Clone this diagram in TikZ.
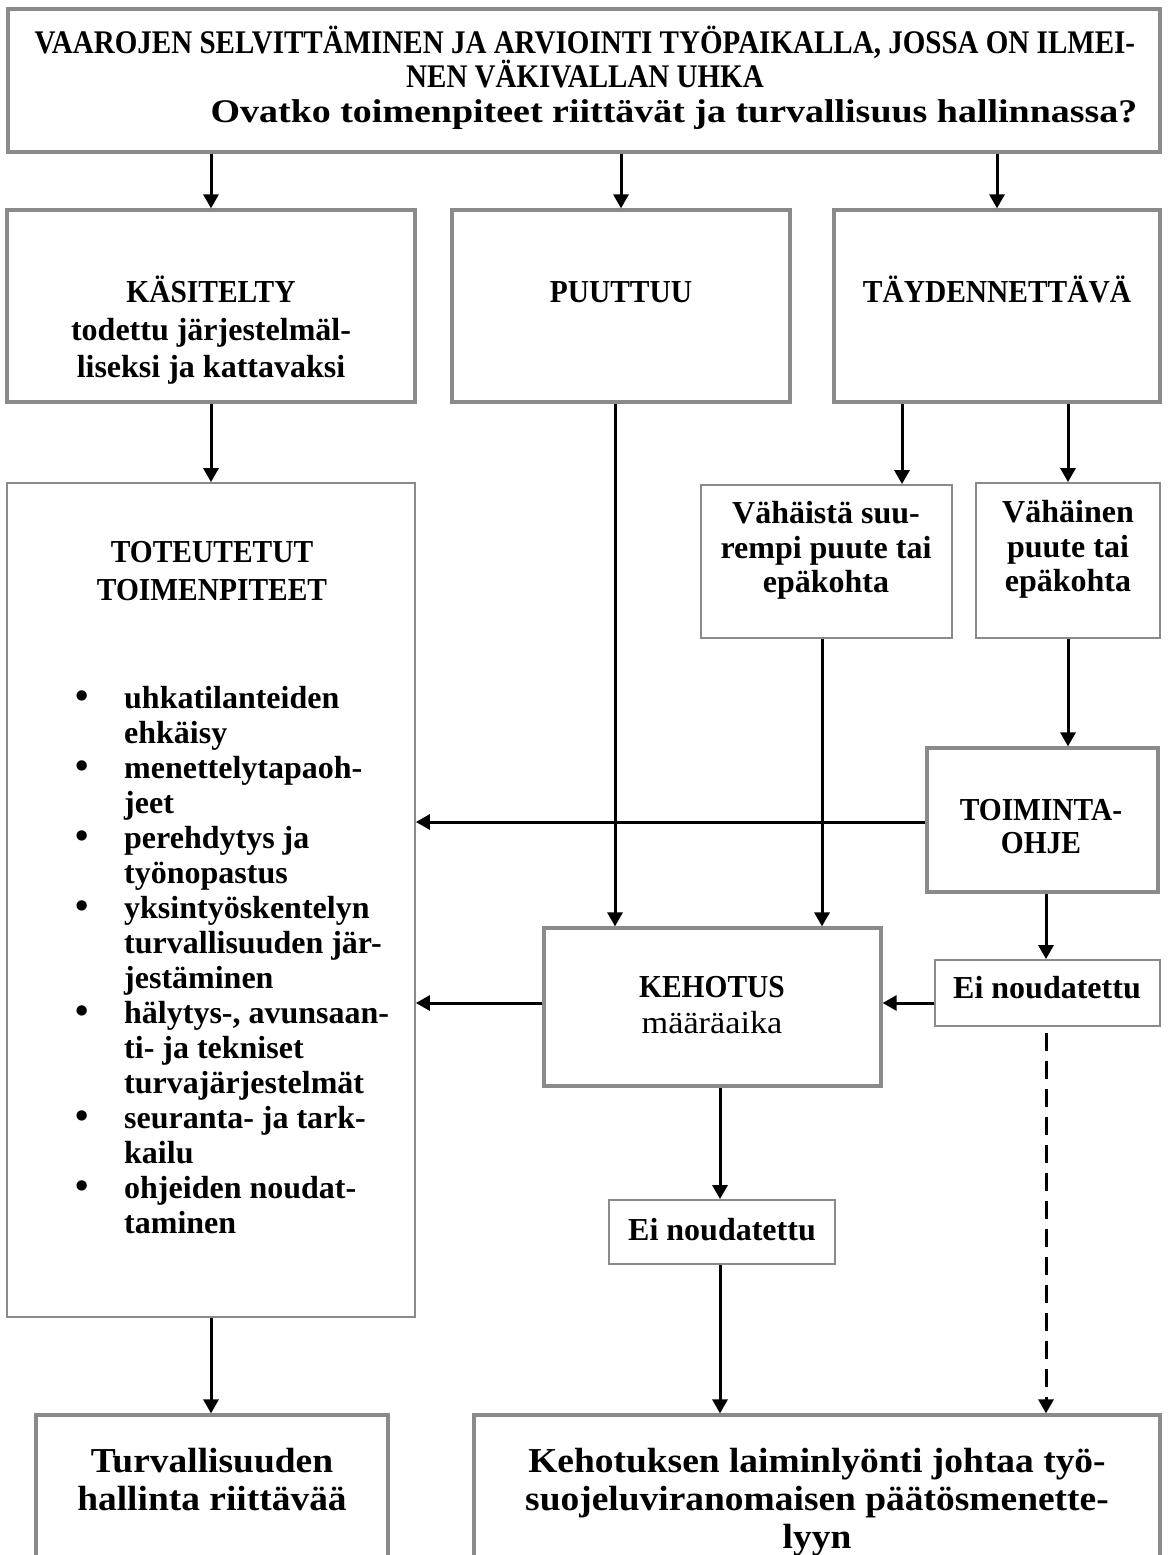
\documentclass[tikz,border=0pt]{standalone}
\usepackage{fontspec}
\setmainfont{Liberation Serif}
\newfontfamily\capsfont{Liberation Serif}[FakeStretch=0.92]
\newfontfamily\titlecaps{Liberation Serif}[FakeStretch=0.88]
\newfontfamily\titlelc{Liberation Serif}[FakeStretch=1.15]
\newfontfamily\widefont{Liberation Serif}[FakeStretch=1.07]
\usetikzlibrary{arrows.meta}
\definecolor{bordergray}{HTML}{8A8A8A}
\begin{document}
\begin{tikzpicture}[x=1pt,y=-1pt,
  thickbox/.style={draw=bordergray, line width=3.2pt, fill=white, inner sep=0pt},
  thinbox/.style={draw=bordergray, line width=1.8pt, fill=white, inner sep=0pt},
  arr/.style={draw=black, line width=3pt, -{Triangle[length=14pt,width=15pt]}},
  dasharr/.style={arr, dash pattern=on 18pt off 10pt, dash phase=22pt},
  ttlcap/.style={inner sep=0pt, anchor=base, font=\titlecaps\fontsize{33}{35}\selectfont\bfseries},
  ttllc/.style={inner sep=0pt, anchor=base, font=\titlelc\fontsize{33}{35}\selectfont\bfseries},
  uc/.style={inner sep=0pt, anchor=base, font=\capsfont\fontsize{32}{35}\selectfont\bfseries},
  lc/.style={inner sep=0pt, anchor=base, font=\fontsize{32}{35}\selectfont\bfseries},
  rg/.style={inner sep=0pt, anchor=base, font=\widefont\fontsize{32}{35}\selectfont},
  bigtxt/.style={inner sep=0pt, anchor=base, font=\widefont\fontsize{35}{38}\selectfont\bfseries}
]
\useasboundingbox (0,0) rectangle (1168,1555);
\clip (0,0) rectangle (1168,1555);

% ---------- boxes ----------
\node[thickbox, minimum width=1152pt, minimum height=143pt] (top) at (584,80.5) {};
\node[thickbox, minimum width=408pt, minimum height=192pt] (kas) at (211,306) {};
\node[thickbox, minimum width=338pt, minimum height=192pt] (puu) at (621,306) {};
\node[thickbox, minimum width=326pt, minimum height=192pt] (tay) at (997,306) {};
\node[thinbox, minimum width=408pt, minimum height=834pt] (tot) at (211,900) {};
\node[thinbox, minimum width=251pt, minimum height=153pt] (vs) at (826.5,561.5) {};
\node[thinbox, minimum width=184pt, minimum height=155pt] (vn) at (1068,560.5) {};
\node[thickbox, minimum width=231pt, minimum height=144pt] (toi) at (1042.5,820) {};
\node[thinbox, minimum width=225pt, minimum height=66pt] (eir) at (1047.5,993) {};
\node[thickbox, minimum width=337pt, minimum height=158pt] (keh) at (712.5,1007) {};
\node[thinbox, minimum width=226pt, minimum height=64pt] (eim) at (722,1232) {};
\node[thickbox, minimum width=352pt, minimum height=200pt] (bl) at (212,1515) {};
\node[thickbox, minimum width=686pt, minimum height=200pt] (br) at (817,1515) {};

% ---------- helper coordinates ----------
\coordinate (xa) at (902,0);
\coordinate (xp) at (615,0);
\coordinate (xv) at (822,0);
\coordinate (xe) at (1046,0);
\coordinate (xm) at (720,0);
\coordinate (yt) at (0,822);
\coordinate (yk) at (0,1003);

% ---------- connectors ----------
\draw[arr] (top.south -| kas.north) -- (kas.north);
\draw[arr] (top.south -| puu.north) -- (puu.north);
\draw[arr] (top.south -| tay.north) -- (tay.north);
\draw[arr] (kas.south) -- (tot.north);
\draw[arr] (tay.south -| xa) -- (vs.north -| xa);
\draw[arr] (tay.south -| vn.north) -- (vn.north);
\draw[arr] (puu.south -| xp) -- (keh.north -| xp);
\draw[arr] (vs.south -| xv) -- (keh.north -| xv);
\draw[arr] (vn.south) -- (toi.north -| vn.south);
\draw[arr] (toi.west |- yt) -- (tot.east |- yt);
\draw[arr] (toi.south -| xe) -- (eir.north -| xe);
\draw[arr] (eir.west |- yk) -- (keh.east |- yk);
\draw[arr] (keh.west |- yk) -- (tot.east |- yk);
\draw[arr] (keh.south -| xm) -- (eim.north -| xm);
\draw[arr] (eim.south -| xm) -- (br.north -| xm);
\draw[dasharr] (eir.south -| xe) -- (br.north -| xe);
\draw[arr] (tot.south) -- (bl.north -| tot.south);

% ---------- texts ----------
\node[ttlcap] (t1) at (585,54) {VAAROJEN SELVITTÄMINEN JA ARVIOINTI TYÖPAIKALLA, JOSSA ON ILMEI-};
\node[ttlcap] (t2) at (585,88) {NEN VÄKIVALLAN UHKA};
\node[ttllc] (t3) at (674,122) {Ovatko toimenpiteet riittävät ja turvallisuus hallinnassa?};

\node[uc] (k1) at (211,302) {KÄSITELTY};
\node[lc] (k2) at (211,340) {todettu järjestelmäl-};
\node[lc] (k3) at (211,377) {liseksi ja kattavaksi};

\node[uc] (p1) at (621,302) {PUUTTUU};
\node[uc] (ty1) at (997,302) {TÄYDENNETTÄVÄ};

\node[lc] (vs1) at (826,523) {Vähäistä suu-};
\node[lc] (vs2) at (826,558) {rempi puute tai};
\node[lc] (vs3) at (826,592) {epäkohta};

\node[lc] (vn1) at (1068,522) {Vähäinen};
\node[lc] (vn2) at (1068,557) {puute tai};
\node[lc] (vn3) at (1068,591) {epäkohta};

\node[uc] (to1) at (1041,820) {TOIMINTA-};
\node[uc] (to2) at (1041,853) {OHJE};

\node[lc] (er1) at (1047,998) {Ei noudatettu};

\node[uc] (ke1) at (712,997) {KEHOTUS};
\node[rg] (ke2) at (712,1033) {määräaika};

\node[lc] (em1) at (722,1240) {Ei noudatettu};

\node[uc] (tt1) at (212,562) {TOTEUTETUT};
\node[uc] (tt2) at (212,600) {TOIMENPITEET};

\node[lc, anchor=base west] (lst) at (75,708) {%
\begin{tabular}[t]{@{}p{49pt}@{}l@{}}
{\fontsize{38}{35}\selectfont •} & uhkatilanteiden\\
 & ehkäisy\\
{\fontsize{38}{35}\selectfont •} & menettelytapaoh-\\
 & jeet\\
{\fontsize{38}{35}\selectfont •} & perehdytys ja\\
 & työnopastus\\
{\fontsize{38}{35}\selectfont •} & yksintyöskentelyn\\
 & turvallisuuden jär-\\
 & jestäminen\\
{\fontsize{38}{35}\selectfont •} & hälytys-, avunsaan-\\
 & ti- ja tekniset\\
 & turvajärjestelmät\\
{\fontsize{38}{35}\selectfont •} & seuranta- ja tark-\\
 & kailu\\
{\fontsize{38}{35}\selectfont •} & ohjeiden noudat-\\
 & taminen
\end{tabular}};

\node[bigtxt] (bl1) at (212,1472) {Turvallisuuden};
\node[bigtxt] (bl2) at (212,1510) {hallinta riittävää};

\node[bigtxt] (br1) at (817,1472) {Kehotuksen laiminlyönti johtaa työ-};
\node[bigtxt] (br2) at (817,1510) {suojeluviranomaisen päätösmenette-};
\node[bigtxt] (br3) at (817,1548) {lyyn};
\end{tikzpicture}
\end{document}
